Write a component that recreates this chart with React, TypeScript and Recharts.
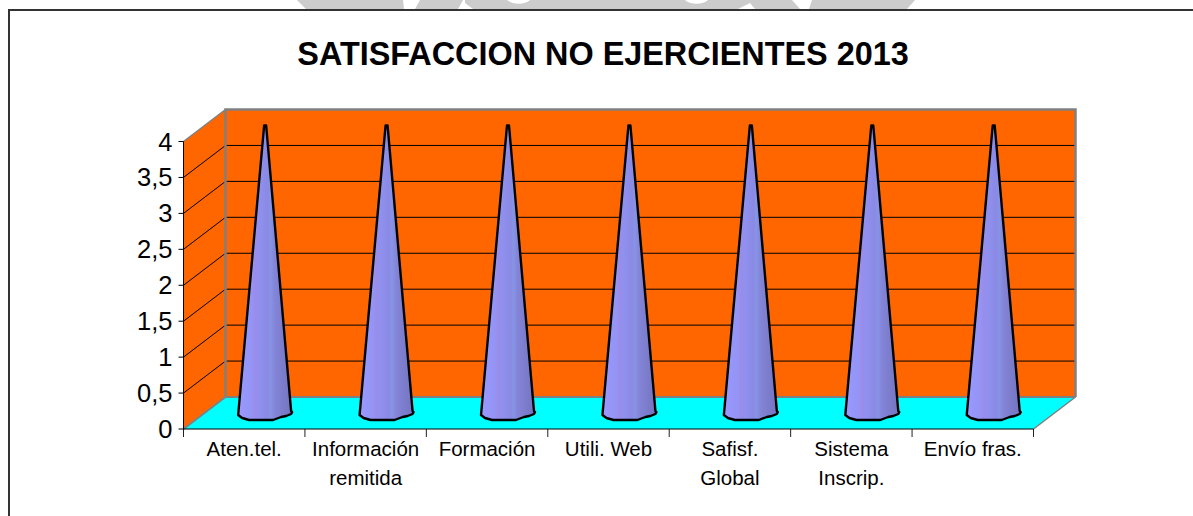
import React from "react";
import { ComposedChart, Bar, XAxis, YAxis, usePlotArea } from "recharts";

const categories = [
  ["Aten.tel."],
  ["Información", "remitida"],
  ["Formación"],
  ["Utili. Web"],
  ["Safisf.", "Global"],
  ["Sistema", "Inscrip."],
  ["Envío fras."],
];
const satisfaction = [4, 4, 4, 4, 4, 4, 4];
const yTicks = [0, 0.5, 1, 1.5, 2, 2.5, 3, 3.5, 4];
const yMax = 4;
const title = "SATISFACCION NO EJERCIENTES 2013";

const data = categories.map((lines, i) => ({ name: lines.join(" "), value: satisfaction[i], lines }));

const DEPTH_X = 42;
const DEPTH_Y = 32;
const X_TICK = 8;
const FONT = "'Liberation Sans', Arial, sans-serif";

function Walls() {
  const p = usePlotArea();
  if (!p) return null;
  const { x, y, width: w, height: h } = p;
  const yAt = (v: number) => y + h - (v / yMax) * h;
  const x2 = x + w;
  const b = y + h;
  const grey = "#808080";
  return (
    <g>
      <polygon points={`${x},${y} ${x + DEPTH_X},${y - DEPTH_Y} ${x + DEPTH_X},${b - DEPTH_Y} ${x},${b}`} fill="#ff6600" />
      <rect x={x + DEPTH_X} y={y - DEPTH_Y} width={w} height={h} fill="#ff6600" />
      <polygon points={`${x},${b} ${x + DEPTH_X},${b - DEPTH_Y} ${x2 + DEPTH_X},${b - DEPTH_Y} ${x2},${b}`} fill="#00ffff" />
      {yTicks.filter((t) => t > 0 && t < yMax).map((t) => (
        <g key={t} stroke="#000" strokeWidth={1} fill="none">
          <line x1={x} y1={yAt(t)} x2={x + DEPTH_X} y2={yAt(t) - DEPTH_Y} />
          <line x1={x + DEPTH_X} y1={yAt(t) - DEPTH_Y} x2={x2 + DEPTH_X} y2={yAt(t) - DEPTH_Y} />
        </g>
      ))}
      <line x1={x} y1={y} x2={x + DEPTH_X} y2={y - DEPTH_Y} stroke={grey} strokeWidth={1.5} />
      <line x1={x2 + DEPTH_X} y1={b - DEPTH_Y} x2={x2} y2={b} stroke={grey} strokeWidth={1.5} />
      <polyline
        points={`${x + DEPTH_X},${b - DEPTH_Y} ${x + DEPTH_X},${y - DEPTH_Y} ${x2 + DEPTH_X},${y - DEPTH_Y} ${x2 + DEPTH_X},${b - DEPTH_Y}`}
        fill="none" stroke={grey} strokeWidth={2.5}
      />
      <line x1={x + DEPTH_X} y1={b - DEPTH_Y} x2={x2 + DEPTH_X} y2={b - DEPTH_Y} stroke={grey} strokeWidth={2} />
      <line x1={x} y1={b} x2={x + DEPTH_X} y2={b - DEPTH_Y} stroke={grey} strokeWidth={2} />
    </g>
  );
}

function BoundaryTicks() {
  const p = usePlotArea();
  if (!p) return null;
  const { x, y, width: w, height: h } = p;
  const b = y + h;
  return (
    <g stroke="#222" strokeWidth={1}>
      {Array.from({ length: categories.length + 1 }, (_, i) => {
        const tx = x + (i * w) / categories.length;
        return <line key={i} x1={tx} y1={b} x2={tx} y2={b + X_TICK} />;
      })}
    </g>
  );
}

function Cone(props: any) {
  const { x, y, width, height } = props;
  const cx = x + width / 2 + DEPTH_X / 2;
  const top = y - DEPTH_Y / 2;
  const base = y + height - DEPTH_Y / 2;
  const d = [
    `M${cx - 1},${top}`,
    `L${cx + 1},${top}`,
    `L${cx + 26},${base - 2}`,
    `L${cx + 27},${base - 1}`,
    `L${cx + 26},${base + 1}`,
    `L${cx + 21},${base + 3}`,
    `L${cx + 16},${base + 4}`,
    `L${cx + 8},${base + 7}`,
    `L${cx - 16},${base + 7}`,
    `L${cx - 23},${base + 5}`,
    `L${cx - 27},${base + 2}`,
    `Z`,
  ].join(" ");
  return <path d={d} fill="url(#coneFill)" stroke="#000" strokeWidth={2.4} strokeLinejoin="round" />;
}

function CategoryTick(props: any) {
  const { x, y, index } = props;
  const lines = categories[index] || [];
  return (
    <text x={x} textAnchor="middle" fontFamily={FONT} fontSize={20.5} fill="#000">
      {lines.map((l: string, i: number) => (
        <tspan key={i} x={x} y={y + 17 + i * 29}>{l}</tspan>
      ))}
    </text>
  );
}

function Decor() {
  return (
    <g>
      <path
        d="M297,0 L403,0 L404,9 L306,9 Z M420,0 L463,0 L458,9 L415,9 Z M465,0 L507,0 C512,5 525,5 530,0 L685,0 C690,5 703,5 708,0 L792,0 L800,9 L755,9 L750,3 L738,9 L473,9 L465,3 Z M812,0 L915,0 L907,9 L809,9 Z"
        fill="#cccccc"
      />
      <path d="M1193,10 L9,10 L9,516" fill="none" stroke="#333" strokeWidth={2} />
    </g>
  );
}

export default function App() {
  return (
    <div style={{ position: "absolute", left: 0, top: 0, width: 1193, height: 516 }}>
      <ComposedChart
        width={1193}
        height={516}
        data={data}
        margin={{ top: 141.5, right: 159.5, bottom: 0, left: 0 }}
      >
        <defs>
          <linearGradient id="coneFill" x1="0" y1="0" x2="1" y2="0">
            <stop offset="0%" stopColor="#9999ff" />
            <stop offset="25%" stopColor="#9494f6" />
            <stop offset="32%" stopColor="#9a8ce8" />
            <stop offset="38%" stopColor="#9090f0" />
            <stop offset="55%" stopColor="#8a8ae4" />
            <stop offset="60%" stopColor="#8694e6" />
            <stop offset="68%" stopColor="#8484d8" />
            <stop offset="100%" stopColor="#7373bf" />
          </linearGradient>
        </defs>
        <Decor />
        <text x={603} y={64.5} textAnchor="middle" fontFamily={FONT} fontWeight="bold" fontSize={32.4} fill="#000">
          {title}
        </text>
        <Walls />
        <BoundaryTicks />
        <XAxis
          dataKey="name"
          interval={0}
          tick={<CategoryTick />}
          tickSize={X_TICK}
          tickLine={false}
          stroke="#000"
          height={87}
        />
        <YAxis
          type="number"
          domain={[0, yMax]}
          ticks={yTicks}
          interval={0}
          width={183.5}
          tickSize={5}
          tickMargin={6}
          stroke="#000"
          tickFormatter={(v: number) => String(v).replace(".", ",")}
          tick={{ fontFamily: FONT, fontSize: 25.5, fill: "#000" }}
        />
        <Bar dataKey="value" shape={<Cone />} isAnimationActive={false} />
      </ComposedChart>
    </div>
  );
}
